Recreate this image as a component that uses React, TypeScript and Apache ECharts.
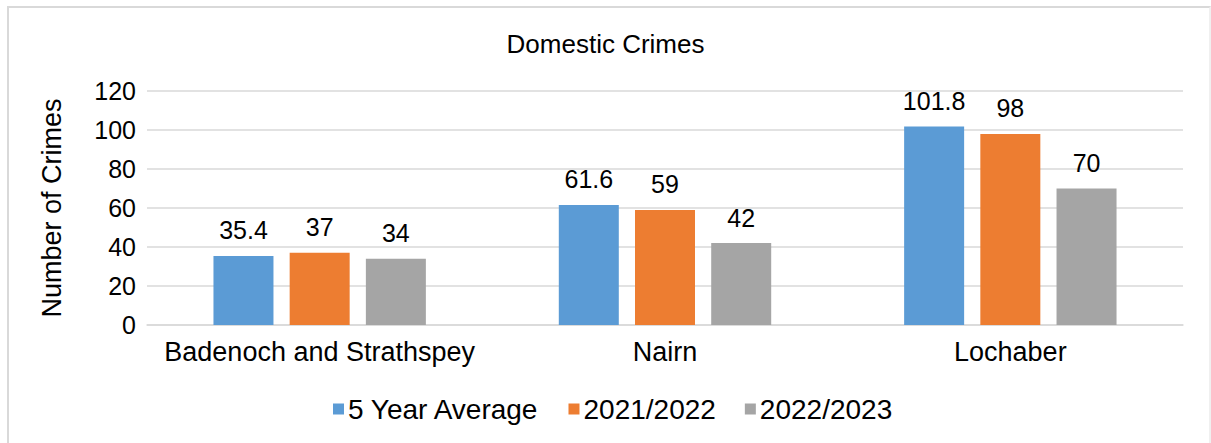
import React, { useEffect, useRef } from "react";
import * as echarts from "echarts";

const categories = ["Badenoch and Strathspey", "Nairn", "Lochaber"];
const seriesNames = ["5 Year Average", "2021/2022", "2022/2023"];
const fiveYearAverage = [35.4, 61.6, 101.8];
const year2021_2022 = [37, 59, 98];
const year2022_2023 = [34, 42, 70];
const colors = ["#5b9bd5", "#ed7d31", "#a5a5a5"];

const FONT = "'Liberation Sans', Arial, sans-serif";

export default function App() {
  const ref = useRef<HTMLDivElement>(null);
  useEffect(() => {
    if (!ref.current) return;
    const chart = echarts.init(ref.current, null, { renderer: "svg" });
    const values = [fiveYearAverage, year2021_2022, year2022_2023];
    chart.setOption({
      animation: false,
      textStyle: { fontFamily: FONT },
      title: {
        text: "Domestic Crimes",
        left: "center",
        top: 26,
        textStyle: { fontFamily: FONT, fontSize: 26, fontWeight: "normal", color: "#000" },
      },
      legend: {
        data: seriesNames,
        bottom: 20,
        left: 333,
        padding: 0,
        itemWidth: 11,
        itemHeight: 11,
        itemGap: 29,
        icon: "rect",
        textStyle: { fontFamily: FONT, fontSize: 28, color: "#000", padding: [0, 0, 0, -1] },
      },
      grid: { left: 147, right: 28, top: 91, bottom: 118, containLabel: false },
      xAxis: {
        type: "category",
        data: categories,
        axisLine: { lineStyle: { color: "#d9d9d9", width: 1.5 } },
        axisTick: { show: false },
        axisLabel: { fontFamily: FONT, fontSize: 27, color: "#000", margin: 13, interval: 0 },
      },
      yAxis: {
        type: "value",
        min: 0,
        max: 120,
        interval: 20,
        name: "Number of Crimes",
        nameLocation: "middle",
        nameGap: 82,
        nameTextStyle: { fontFamily: FONT, fontSize: 27, color: "#000" },
        axisLine: { show: false },
        axisTick: { show: false },
        axisLabel: { fontFamily: FONT, fontSize: 25, color: "#000", margin: 11 },
        splitLine: { lineStyle: { color: "#d9d9d9", width: 1.5 } },
      },
      series: seriesNames.map((name, i) => ({
        name,
        type: "bar",
        data: values[i],
        barWidth: 60,
        barGap: "27%",
        itemStyle: { color: colors[i] },
        label: {
          show: true,
          position: "top",
          distance: 13,
          fontFamily: FONT,
          fontSize: 25,
          color: "#000",
        },
      })),
    });
    return () => chart.dispose();
  }, []);
  return (
    <div style={{ position: "absolute", left: 0, top: 0, width: 1211, height: 443, overflow: "hidden", background: "#fff" }}>
      <div
        style={{
          position: "absolute",
          left: 7,
          top: 6,
          width: 1204,
          height: 437,
          boxSizing: "border-box",
          borderTop: "2px solid #d9d9d9",
          borderLeft: "2px solid #d9d9d9",
          borderRight: "2px solid #f0f0f0",
        }}
      />
      <div ref={ref} style={{ position: "absolute", left: 0, top: 0, width: 1211, height: 443 }} />
    </div>
  );
}
